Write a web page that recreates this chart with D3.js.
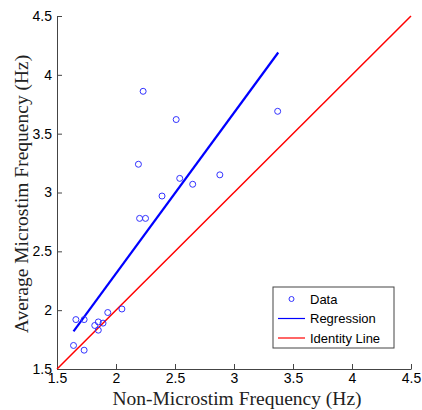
<!DOCTYPE html>
<html>
<head>
<meta charset="utf-8">
<script src="https://cdn.jsdelivr.net/npm/d3@7"></script>
<style>
  body { margin: 0; background: #fff; }
  .tick text { font-family: "Liberation Sans", Arial, sans-serif; font-size: 14px; fill: #000; }
  .label { font-family: "Liberation Serif", "Times New Roman", serif; font-size: 19.5px; fill: #222; }
  .legend text { font-family: "Liberation Sans", Arial, sans-serif; font-size: 13px; fill: #000; }
</style>
</head>
<body>
<div id="chart"></div>
<script>
// data
var xVals = [1.64, 1.66, 1.73, 1.73, 1.82, 1.85, 1.85, 1.89, 1.93, 2.05,
             2.20, 2.25, 2.19, 2.23, 2.39, 2.51, 2.54, 2.65, 2.88, 3.37];
var yVals = [1.70, 1.92, 1.92, 1.66, 1.87, 1.90, 1.83, 1.89, 1.98, 2.01,
             2.78, 2.78, 3.24, 3.86, 2.97, 3.62, 3.12, 3.07, 3.15, 3.69];
var regX = [1.64, 3.375];
var regY = [1.82, 4.19];
var identity = [1.5, 4.5];
var ticks = [1.5, 2, 2.5, 3, 3.5, 4, 4.5];
var legendLabels = ["Data", "Regression", "Identity Line"];

var margin = { top: 16, right: 11, bottom: 41, left: 57 },
    width = 422 - margin.left - margin.right,
    height = 410 - margin.top - margin.bottom;

var svg = d3.select("#chart")
    .append("svg")
    .attr("width", 422)
    .attr("height", 410)
    .append("g")
    .attr("transform", "translate(" + margin.left + "," + margin.top + ")");

var x = d3.scaleLinear().domain([1.5, 4.5]).range([0, width]);
var y = d3.scaleLinear().domain([1.5, 4.5]).range([height, 0]);

var fmt = function (d) { return d3.format("")(d); };

// x axis, ticks pointing inward
var xAxis = svg.append("g")
    .attr("transform", "translate(0," + height + ")")
    .call(d3.axisBottom(x).tickValues(ticks).tickSizeInner(-5).tickSizeOuter(0).tickPadding(4).tickFormat(fmt));
xAxis.select(".domain").attr("stroke", "#444");
xAxis.selectAll(".tick line").attr("stroke", "#444");

// y axis
var yAxis = svg.append("g")
    .call(d3.axisLeft(y).tickValues(ticks).tickSizeInner(-5).tickSizeOuter(0).tickPadding(5).tickFormat(fmt));
yAxis.select(".domain").attr("stroke", "#444");
yAxis.selectAll(".tick line").attr("stroke", "#444");

// identity line
svg.append("line")
    .attr("x1", x(identity[0])).attr("y1", y(identity[0]))
    .attr("x2", x(identity[1])).attr("y2", y(identity[1]))
    .attr("stroke", "#ff0000")
    .attr("stroke-width", 1.5);

// regression line
svg.append("line")
    .attr("x1", x(regX[0])).attr("y1", y(regY[0]))
    .attr("x2", x(regX[1])).attr("y2", y(regY[1]))
    .attr("stroke", "#0000ff")
    .attr("stroke-width", 2.2);

// data points
svg.selectAll(".pt")
    .data(xVals)
    .enter()
    .append("circle")
    .attr("class", "pt")
    .attr("cx", function (d) { return x(d); })
    .attr("cy", function (d, i) { return y(yVals[i]); })
    .attr("r", 3)
    .attr("fill", "none")
    .attr("stroke", "#3333ff")
    .attr("stroke-width", 1);

// axis labels
svg.append("text")
    .attr("class", "label")
    .attr("text-anchor", "middle")
    .attr("x", 237 - margin.left)
    .attr("y", 405 - margin.top)
    .text("Non-Microstim Frequency (Hz)");

svg.append("text")
    .attr("class", "label")
    .attr("text-anchor", "middle")
    .attr("transform", "rotate(-90)")
    .attr("x", -(194 - margin.top))
    .attr("y", 28 - margin.left)
    .text("Average Microstim Frequency (Hz)");

// legend
var legend = svg.append("g")
    .attr("class", "legend")
    .attr("transform", "translate(" + (273 - margin.left) + "," + (287 - margin.top) + ")");
legend.append("rect")
    .attr("width", 121).attr("height", 61)
    .attr("fill", "#fff").attr("stroke", "#444").attr("stroke-width", 1);

legendLabels.forEach(function (lab, i) {
    var cy = 12 + i * 19.5;
    if (i == 0) {
        legend.append("circle")
            .attr("cx", 18.5).attr("cy", cy).attr("r", 2.5)
            .attr("fill", "none").attr("stroke", "#3333ff");
    } else {
        legend.append("line")
            .attr("x1", 5).attr("x2", 32).attr("y1", cy).attr("y2", cy)
            .attr("stroke", i == 1 ? "#0000ff" : "#ff0000")
            .attr("stroke-width", 1.2);
    }
    legend.append("text")
        .attr("x", 37).attr("y", cy)
        .attr("dy", "0.35em")
        .text(lab);
});
</script>
</body>
</html>
